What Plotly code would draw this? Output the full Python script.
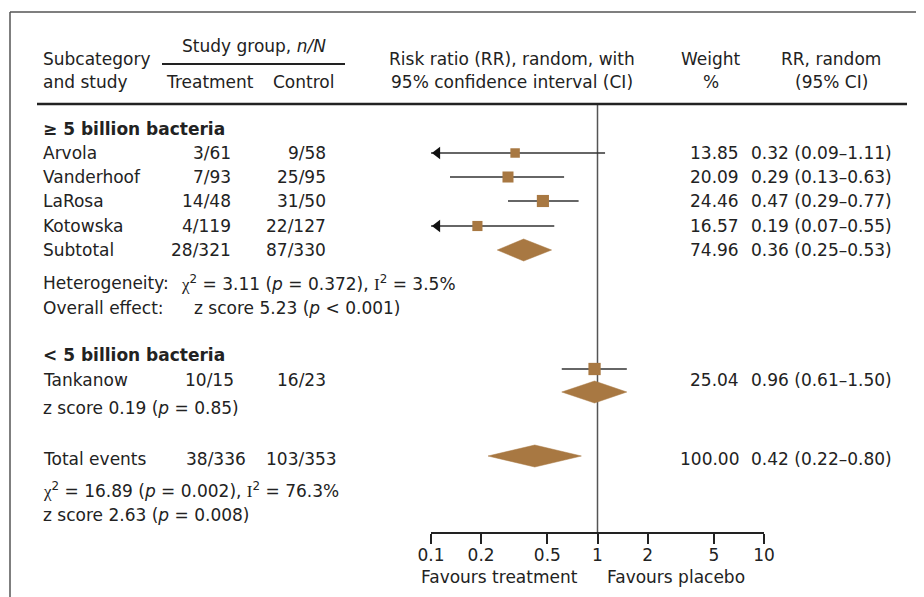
import plotly.graph_objects as go

W, H = 924, 597

# ---------------- data ----------------
studies = ["Arvola", "Vanderhoof", "LaRosa", "Kotowska"]
treat_events = ["3/61", "7/93", "14/48", "4/119"]
control_events = ["9/58", "25/95", "31/50", "22/127"]
weights = [13.85, 20.09, 24.46, 16.57]
rr = [0.32, 0.29, 0.47, 0.19]
ci_low = [0.09, 0.13, 0.29, 0.07]
ci_high = [1.11, 0.63, 0.77, 0.55]

sub_label = "Subtotal"
sub_treat, sub_control = "28/321", "87/330"
sub_weight, sub_rr, sub_lo, sub_hi = 74.96, 0.36, 0.25, 0.53

tank_label = "Tankanow"
tank_treat, tank_control = "10/15", "16/23"
tank_weight, tank_rr, tank_lo, tank_hi = 25.04, 0.96, 0.61, 1.50

tot_label = "Total events"
tot_treat, tot_control = "38/336", "103/353"
tot_weight, tot_rr, tot_lo, tot_hi = 100.00, 0.42, 0.22, 0.80

tick_vals = [0.1, 0.2, 0.5, 1, 2, 5, 10]
tick_text = ["0.1", "0.2", "0.5", "1", "2", "5", "10"]

# ---------------- layout constants (page pixels) ----------------
OFF = 8  # page body margin
FONT = "DejaVu Sans"
FS = 17
TXT = "#222222"
BROWN = "#A87842"
AX_L, AX_R, AX_Y = 431, 764, 532
PX_PER_DEC = (AX_R - AX_L) / 2.0

study_y = [153, 177, 201, 226]
sub_y = 250
tank_y, tank_marker_y, tank_diamond_y = 380, 369, 392
tot_y = 459

COL_NAME = 42
COL_TREAT = 232
COL_CTRL = 327
COL_W = 740
COL_RR = 750

fig = go.Figure()
annotations = []
shapes = []


def px_x(x):
    return (x - OFF) / W


def px_y(y):
    return 1 - (y - OFF) / H


def txt(x, y, s, anchor="left", size=FS):
    annotations.append(dict(
        x=px_x(x), y=px_y(y), xref="paper", yref="paper", text=s,
        showarrow=False, xanchor=anchor, yanchor="middle",
        font=dict(family=FONT, size=size, color=TXT), borderpad=0,
    ))


def hline(x0, x1, y, width=2, color=TXT):
    shapes.append(dict(type="line", xref="paper", yref="paper",
                       x0=px_x(x0), x1=px_x(x1), y0=px_y(y), y1=px_y(y),
                       line=dict(color=color, width=width)))


def fmt_ci(r, lo, hi):
    return f"{r:.2f} ({lo:.2f}\u2013{hi:.2f})"


SERIF = "<span style=\"font-family:'Liberation Serif'\">"
CHI = SERIF + "\u03c7</span>"
II = SERIF + "I</span>"

# ---------------- frame & header ----------------
shapes.append(dict(type="line", xref="paper", yref="paper", x0=px_x(10), x1=px_x(10),
                   y0=px_y(12), y1=px_y(610), line=dict(color="#555555", width=1.5)))
hline(10, 940, 12, width=1.5, color="#555555")
hline(162, 345, 64, width=2)
hline(37, 907, 104, width=2.5)

txt(COL_NAME, 59, "Subcategory")
txt(COL_NAME, 82, "and study")
txt(254, 46, "Study group, <i>n/N</i>", "center")
txt(210, 82, "Treatment", "center")
txt(303, 82, "Control", "center")
txt(512, 59, "Risk ratio (RR), random, with", "center")
txt(512, 82, "95% confidence interval (CI)", "center")
txt(711, 59, "Weight", "center")
txt(711, 82, "%", "center")
txt(831, 59, "RR, random", "center")
txt(831, 82, "(95% CI)", "center")

# ---------------- group 1 ----------------
txt(COL_NAME, 129, "<b>\u2265 5 billion bacteria</b>")
for i, name in enumerate(studies):
    y = study_y[i]
    txt(COL_NAME, y, name)
    txt(COL_TREAT, y, treat_events[i], "right")
    txt(COL_CTRL, y, control_events[i], "right")
    txt(COL_W, y, f"{weights[i]:.2f}", "right")
    txt(COL_RR, y, fmt_ci(rr[i], ci_low[i], ci_high[i]))

txt(COL_NAME, sub_y, sub_label)
txt(COL_TREAT, sub_y, sub_treat, "right")
txt(COL_CTRL, sub_y, sub_control, "right")
txt(COL_W, sub_y, f"{sub_weight:.2f}", "right")
txt(COL_RR, sub_y, fmt_ci(sub_rr, sub_lo, sub_hi))

txt(COL_NAME, 283, "Heterogeneity:")
txt(180, 283, CHI + "<sup>2</sup> = 3.11 (<i>p</i> = 0.372), " + II + "<sup>2</sup> = 3.5%")
txt(COL_NAME, 308, "Overall effect:")
txt(193, 308, "z score 5.23 (<i>p</i> &lt; 0.001)")

# ---------------- group 2 ----------------
txt(COL_NAME, 355, "<b>&lt; 5 billion bacteria</b>")
txt(COL_NAME, tank_y, tank_label)
txt(235, tank_y, tank_treat, "right")
txt(COL_CTRL, tank_y, tank_control, "right")
txt(COL_W, tank_y, f"{tank_weight:.2f}", "right")
txt(COL_RR, tank_y, fmt_ci(tank_rr, tank_lo, tank_hi))
txt(COL_NAME, 408, "z score 0.19 (<i>p</i> = 0.85)")

# ---------------- total ----------------
txt(COL_NAME, tot_y, tot_label)
txt(247, tot_y, tot_treat, "right")
txt(338, tot_y, tot_control, "right")
txt(COL_W, tot_y, f"{tot_weight:.2f}", "right")
txt(COL_RR, tot_y, fmt_ci(tot_rr, tot_lo, tot_hi))
txt(COL_NAME, 490, CHI + "<sup>2</sup> = 16.89 (<i>p</i> = 0.002), " + II + "<sup>2</sup> = 76.3%")
txt(COL_NAME, 515, "z score 2.63 (<i>p</i> = 0.008)")

txt(500, 577, "Favours treatment", "center")
txt(676, 577, "Favours placebo", "center")

# ---------------- forest marks ----------------
LINE = "#333333"
x_min = tick_vals[0]

# reference line at RR = 1
fig.add_trace(go.Scatter(x=[1, 1], y=[104, AX_Y], mode="lines",
                         line=dict(color="#555555", width=1.5), hoverinfo="skip"))


def whisker(lo, hi, y):
    x0 = max(lo, x_min)
    fig.add_trace(go.Scatter(x=[x0, hi], y=[y, y], mode="lines",
                             line=dict(color=LINE, width=1.6), hoverinfo="skip"))
    if lo < x_min:
        size = 11
        off = size / 2 * 1.155
        fig.add_trace(go.Scatter(x=[x_min * 10 ** (off / PX_PER_DEC)], y=[y], mode="markers",
                                 marker=dict(symbol="triangle-left", size=size, color="#111111",
                                             line=dict(width=0)),
                                 hoverinfo="skip"))


def square(r, y, w):
    fig.add_trace(go.Scatter(x=[r], y=[y], mode="markers",
                             marker=dict(symbol="square", size=6 + 0.25 * w, color=BROWN,
                                         line=dict(width=0)), hoverinfo="skip"))


def diamond(r, lo, hi, y, half=11):
    fig.add_trace(go.Scatter(x=[lo, r, hi, r, lo], y=[y, y - half, y, y + half, y],
                             mode="lines", fill="toself", fillcolor=BROWN,
                             line=dict(color=BROWN, width=0.5), hoverinfo="skip"))


for i in range(len(studies)):
    whisker(ci_low[i], ci_high[i], study_y[i])
    square(rr[i], study_y[i], weights[i])
diamond(sub_rr, sub_lo, sub_hi, sub_y)

whisker(tank_lo, tank_hi, tank_marker_y)
square(tank_rr, tank_marker_y, tank_weight)
diamond(tank_rr, tank_lo, tank_hi, tank_diamond_y)

diamond(tot_rr, tot_lo, tot_hi, tot_y - 3)

fig.update_layout(
    width=W, height=H, margin=dict(l=0, r=0, t=0, b=0, pad=0, autoexpand=False),
    paper_bgcolor="white", plot_bgcolor="white", showlegend=False,
    annotations=annotations, shapes=shapes,
    xaxis=dict(type="log", range=[-1, 1], domain=[px_x(AX_L), px_x(AX_R)], anchor="y",
               showline=True, linecolor=TXT, linewidth=2, ticks="outside", ticklen=10,
               tickwidth=2, tickcolor=TXT, tickvals=tick_vals, ticktext=tick_text,
               tickfont=dict(family=FONT, size=FS, color=TXT), showgrid=False,
               zeroline=False, fixedrange=True, automargin=False, ticklabelstandoff=-3),
    yaxis=dict(range=[AX_Y, OFF], domain=[px_y(AX_Y), 1], visible=False,
               showgrid=False, zeroline=False, fixedrange=True, automargin=False),
)

fig.write_html("out.html")
